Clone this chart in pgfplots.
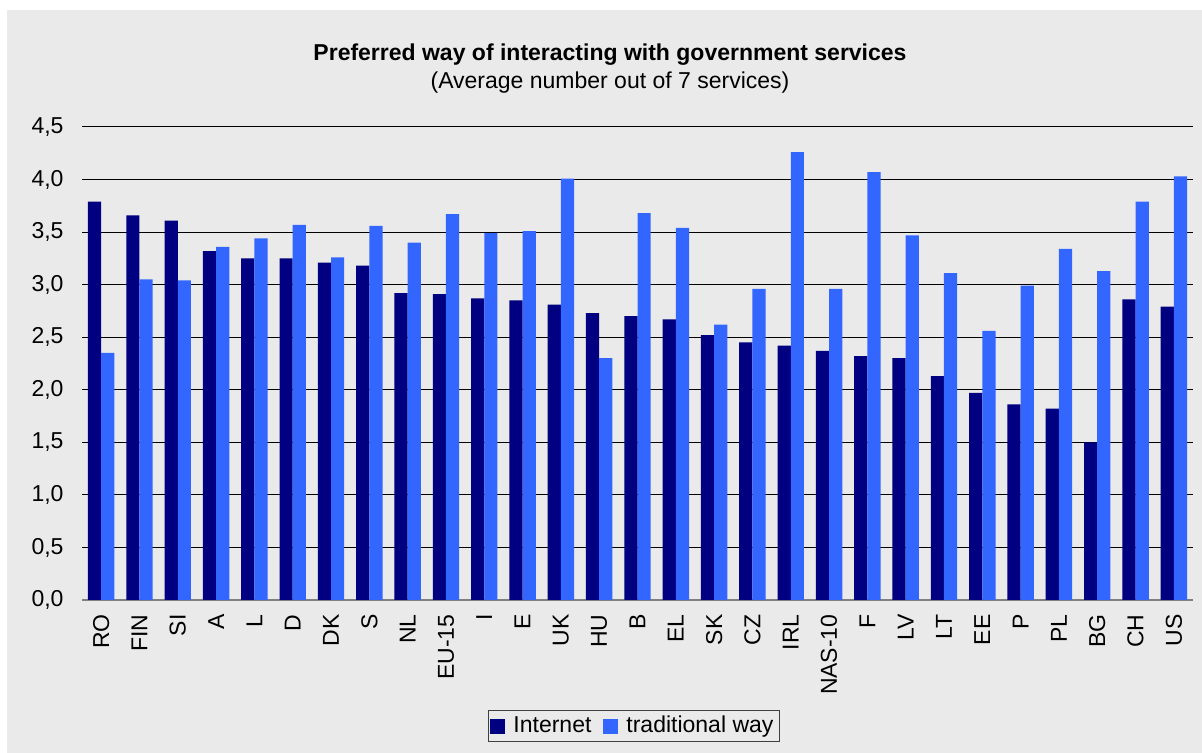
\documentclass[border=0pt]{standalone}
\usepackage{fontspec}
\setmainfont{Liberation Sans}
\usepackage{pgfplots}
\pgfplotsset{compat=1.18}
\definecolor{bg}{HTML}{EAEAEA}
\definecolor{inet}{HTML}{000080}
\definecolor{trad}{HTML}{3366FF}
\begin{document}
\begin{tikzpicture}
\useasboundingbox (0pt,0pt) rectangle (601pt,376.5pt);
\fill[bg] (3.5pt,0pt) rectangle (601pt,371.5pt);
\node[font=\fontsize{11.5}{14}\selectfont\bfseries] at (305pt,349pt) {Preferred way of interacting with government services};
\node[font=\fontsize{11.5}{14}\selectfont] at (305pt,335.25pt) {(Average number out of 7 services)};
\begin{axis}[
  at={(41pt,76.5pt)}, anchor=south west,
  scale only axis, width=555.5pt, height=236.5pt,
  ybar=0pt, bar width=6.6pt,
  ymin=0, ymax=4.5, ytick={0,0.5,1,1.5,2,2.5,3,3.5,4,4.5},
  xmin=-0.5, xmax=28.5,
  xtick={0,...,28},
  xticklabels={RO,FIN,SI,A,L,D,DK,S,NL,EU-15,I,E,UK,HU,B,EL,SK,CZ,IRL,NAS-10,F,LV,LT,EE,P,PL,BG,CH,US},
  enlargelimits=false,
  ymajorgrids, major grid style={black, line width=0.5pt},
  axis x line*=bottom, axis y line*=left,
  y axis line style={draw=none},
  x axis line style={draw=gray, line width=1pt},
  major tick length=0pt,
  tick label style={font=\fontsize{11.5}{13}\selectfont},
  /pgf/number format/assume math mode=true,
  yticklabel style={/pgf/number format/fixed, /pgf/number format/fixed zerofill, /pgf/number format/precision=1, /pgf/number format/use comma},
  yticklabel shift=5.7pt,
  xticklabel style={rotate=90, anchor=east},
  xticklabel shift=3.7pt,
  legend columns=2,
  legend style={at={(0.4968,-0.2664)}, anchor=center, draw=black!75, fill=bg, line width=0.6pt,
    font=\fontsize{11.5}{13}\selectfont, inner xsep=1pt, inner ysep=1pt,
    /tikz/every odd column/.append style={column sep=2pt},
    /tikz/every even column/.append style={column sep=4pt}},
  legend image code/.code={\fill[#1, draw=none] (0pt,-3.75pt) rectangle (7.5pt,3.75pt);},
]
\addplot[fill=inet, draw=none] coordinates {
(0,3.79) (1,3.66) (2,3.61) (3,3.32) (4,3.25) (5,3.25) (6,3.21) (7,3.18) (8,2.92) (9,2.91)
(10,2.87) (11,2.85) (12,2.81) (13,2.73) (14,2.70) (15,2.67) (16,2.52) (17,2.45) (18,2.42) (19,2.37)
(20,2.32) (21,2.30) (22,2.13) (23,1.97) (24,1.86) (25,1.82) (26,1.50) (27,2.86) (28,2.79)};
\addplot[fill=trad, draw=none] coordinates {
(0,2.35) (1,3.05) (2,3.04) (3,3.36) (4,3.44) (5,3.57) (6,3.26) (7,3.56) (8,3.40) (9,3.67)
(10,3.49) (11,3.51) (12,4.01) (13,2.30) (14,3.68) (15,3.54) (16,2.62) (17,2.96) (18,4.26) (19,2.96)
(20,4.07) (21,3.47) (22,3.11) (23,2.56) (24,2.99) (25,3.34) (26,3.13) (27,3.79) (28,4.03)};
\legend{Internet, traditional way}
\end{axis}
\end{tikzpicture}
\end{document}
